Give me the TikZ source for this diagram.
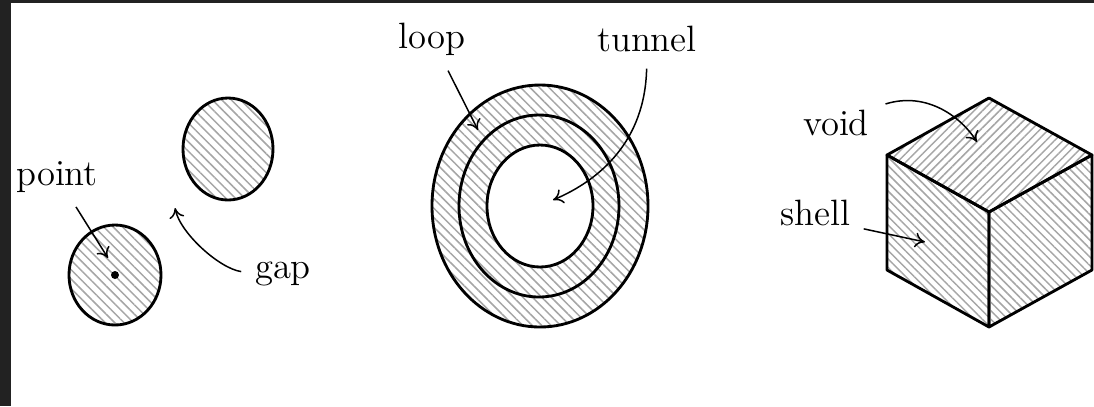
\documentclass[tikz,border=0pt]{standalone}
\usepackage{xcolor}
\usetikzlibrary{arrows.meta, patterns.meta, positioning, calc}
\definecolor{framedark}{HTML}{222222}
\definecolor{hatchgray}{HTML}{A6A6A6}
\tikzset{
  lbl/.style={font=\fontsize{11}{13}\selectfont, inner sep=0pt, anchor=base},
  outline/.style={draw=black, line width=0.85pt, line join=round},
  hatchnw/.style={pattern={Lines[angle=-45, distance=2pt, line width=0.45pt]},
    pattern color=hatchgray},
  hatchne/.style={pattern={Lines[angle=45, distance=1.8pt, line width=0.45pt]},
    pattern color=hatchgray},
  cubenw/.style={pattern={Lines[angle=-45, distance=1.8pt, line width=0.45pt]},
    pattern color=hatchgray},
  pointer/.style={-{To[length=3pt,width=4.5pt]}, line width=0.45pt}
}

\begin{document}
\begin{tikzpicture}[x=0.3pt, y=-0.3pt]

  \useasboundingbox (0,0) rectangle (1094,406);
  \fill[framedark] (0,0) rectangle (1094,406);
  \fill[white] (11,3) rectangle (1094,406);

  %% LEFT: two blobs
  \path[outline, hatchnw] (115,275) ellipse [x radius=46, y radius=50];
  \path[outline, hatchnw] (228,149) ellipse [x radius=45, y radius=51];
  \fill (115,275) circle [radius=4];

  \node[lbl] (pointlbl) at (57,185) {point};
  \node[lbl] (gaplbl)   at (283,278) {gap};

  \coordinate (pointtip) at (108,258);
  \coordinate (gaptip)   at (175,208);

  \draw[pointer, shorten <=5pt] (pointlbl) -- (pointtip);
  \draw[pointer, shorten <=4pt]
    (gaplbl.west) .. controls +(-35,-5) and +(5,25) .. (gaptip);

  %% MIDDLE: ring
  \path[hatchnw, even odd rule]
    (540,206) ellipse [x radius=108, y radius=121]
    (540,206) ellipse [x radius=53, y radius=61];
  \draw[outline] (540,206) ellipse [x radius=108, y radius=121];
  \draw[outline] (539,206) ellipse [x radius=80, y radius=91];
  \draw[outline] (540,206) ellipse [x radius=53, y radius=61];

  \node[lbl] (looplbl)   at (432,48) {loop};
  \node[lbl] (tunnellbl) at (647,51) {tunnel};

  \coordinate (looptip)   at (478,130);
  \coordinate (tunneltip) at (553,200);

  \draw[pointer, shorten <=5pt] (looplbl) -- (looptip);
  \draw[pointer, shorten <=5pt]
    (tunnellbl.south) .. controls +(-2,89) and +(47,-20) .. (tunneltip);

  %% RIGHT: cube
  \path[outline, hatchne] (989,98) -- (1092,155) -- (989,212) -- (887,155) -- cycle;
  \path[outline, cubenw] (887,155) -- (989,212) -- (989,327) -- (887,270) -- cycle;
  \path[outline, cubenw] (989,212) -- (1092,155) -- (1092,270) -- (989,327) -- cycle;

  \node[lbl] (voidlbl)  at (836,135) {void};
  \node[lbl] (shelllbl) at (815,225) {shell};

  \coordinate (voidtip)  at (977,142);
  \coordinate (shelltip) at (925,242);

  \draw[pointer, shorten <=5pt]
    (voidlbl.north east) .. controls +(58,-18) and +(-15,-24) .. (voidtip);
  \draw[pointer, shorten <=4pt] (shelllbl.south east) -- (shelltip);

\end{tikzpicture}
\end{document}
